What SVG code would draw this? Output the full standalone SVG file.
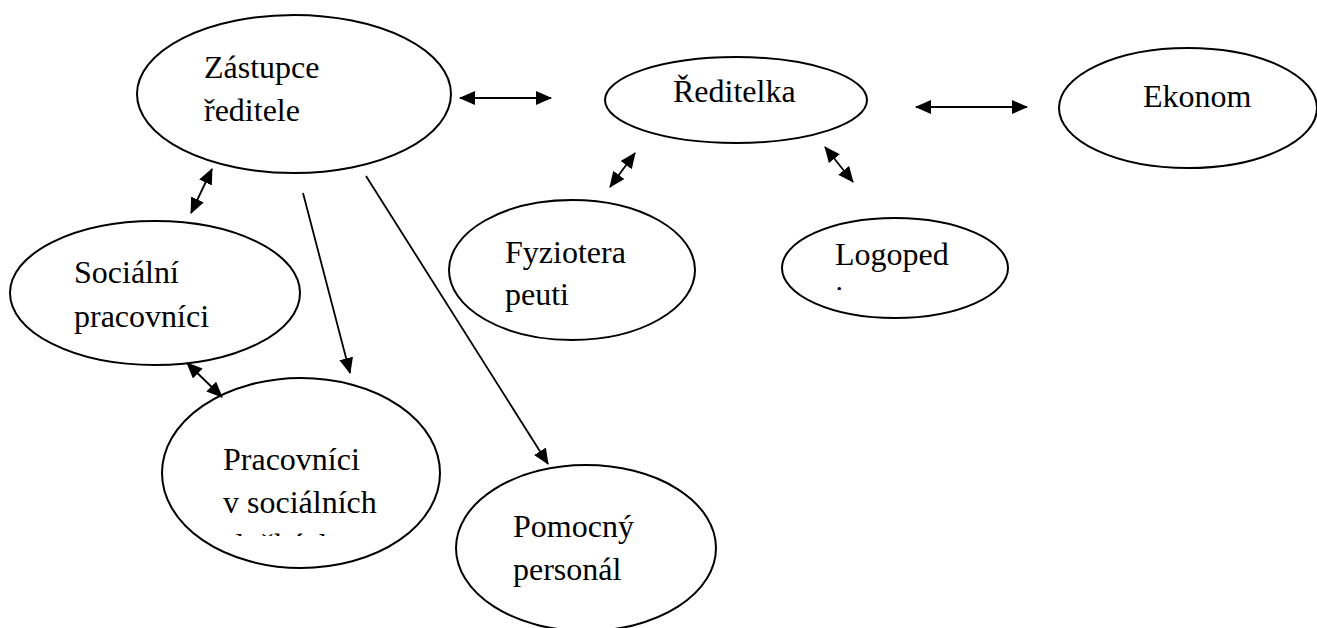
<svg xmlns="http://www.w3.org/2000/svg" width="1317" height="628" viewBox="0 0 1317 628">
<style>
.n{fill:#fff;stroke:#000;stroke-width:2}
.t{font-family:'Liberation Serif','Times New Roman',Times,serif;font-size:32px;fill:#000}
.c line{stroke:#000;stroke-width:1.8}
</style>
<defs>
<marker id="a" viewBox="0 0 16 14" refX="15" refY="7" markerWidth="16" markerHeight="14" markerUnits="userSpaceOnUse" orient="auto-start-reverse">
<path d="M0,0 L16,7 L0,14 Z" fill="#000"/>
</marker>
<clipPath id="clipPrac"><rect x="0" y="0" width="1317" height="536"/></clipPath>
<clipPath id="clipLogo"><rect x="0" y="0" width="1317" height="290"/></clipPath>
</defs>
<rect width="1317" height="628" fill="#fff"/>
<g id="zastupce">
<ellipse class="n" cx="294" cy="94" rx="157" ry="79"/>
<text class="t" x="204" y="78">Zástupce</text>
<text class="t" x="204" y="121">ředitele</text>
</g>
<g id="reditelka">
<ellipse class="n" cx="736" cy="100" rx="131" ry="43"/>
<text class="t" x="673" y="102">Ředitelka</text>
</g>
<g id="ekonom">
<ellipse class="n" cx="1188" cy="108" rx="129" ry="60"/>
<text class="t" x="1143" y="107">Ekonom</text>
</g>
<g id="socialni">
<ellipse class="n" cx="155" cy="293" rx="145" ry="72"/>
<text class="t" x="74" y="283">Sociální</text>
<text class="t" x="74" y="327">pracovníci</text>
</g>
<g id="fyzio">
<ellipse class="n" cx="572" cy="270" rx="123" ry="70"/>
<text class="t" x="505" y="263">Fyziotera</text>
<text class="t" x="505" y="305">peuti</text>
</g>
<g id="logoped">
<ellipse class="n" cx="895" cy="268" rx="113" ry="50"/>
<text class="t" x="835" y="265">Logoped</text>
<text class="t" x="835" y="308" clip-path="url(#clipLogo)">i</text>
</g>
<g id="pracovnici">
<ellipse class="n" cx="301" cy="473" rx="139" ry="95"/>
<text class="t" x="223" y="470">Pracovníci</text>
<text class="t" x="223" y="513">v sociálních</text>
<text class="t" x="223" y="556" clip-path="url(#clipPrac)">službách</text>
</g>
<g id="pomocny">
<ellipse class="n" cx="586" cy="548" rx="130" ry="83"/>
<text class="t" x="513" y="537">Pomocný</text>
<text class="t" x="513" y="580">personál</text>
</g>
<g id="connectors" class="c">
<line x1="460" y1="98" x2="551" y2="98" marker-start="url(#a)" marker-end="url(#a)"/>
<line x1="916" y1="107" x2="1027" y2="107" marker-start="url(#a)" marker-end="url(#a)"/>
<line x1="212" y1="169" x2="191" y2="213" marker-start="url(#a)" marker-end="url(#a)"/>
<line x1="187" y1="363" x2="222" y2="397" marker-start="url(#a)" marker-end="url(#a)"/>
<line x1="635" y1="153" x2="610" y2="187" marker-start="url(#a)" marker-end="url(#a)"/>
<line x1="825" y1="147" x2="853" y2="182" marker-start="url(#a)" marker-end="url(#a)"/>
<line x1="303" y1="193" x2="350" y2="373" marker-end="url(#a)"/>
<line x1="366" y1="176" x2="548" y2="464" marker-end="url(#a)"/>
</g>
</svg>
